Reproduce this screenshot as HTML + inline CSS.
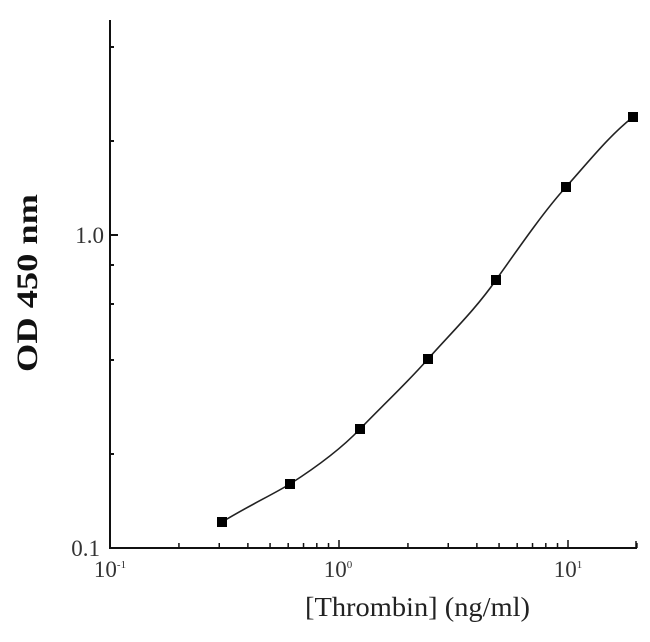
<!DOCTYPE html>
<html><head><style>
html,body{margin:0;padding:0;background:#fff;}
</style></head><body>
<svg width="650" height="637" xmlns="http://www.w3.org/2000/svg" font-family="Liberation Serif, serif">
<g stroke="#111" stroke-width="2" fill="none">
<line x1="110" y1="20" x2="110" y2="549"/>
<line x1="109" y1="548" x2="637" y2="548"/>
<line x1="110" y1="235" x2="118" y2="235"/>
<line x1="110" y1="141" x2="114" y2="141"/>
<line x1="110" y1="47" x2="114" y2="47"/>
<line x1="110" y1="265" x2="114" y2="265"/>
<line x1="110" y1="304" x2="114" y2="304"/>
<line x1="110" y1="360" x2="114" y2="360"/>
<line x1="110" y1="454" x2="114" y2="454"/>
</g>
<g stroke="#111" stroke-width="1.5" id="xt"></g>
<path d="M222,522 C250,505 270,496 290,484 C315,468 340,450 360,429 C385,403 405,385 428,359 C452,332 475,310 496,280 C520,246 545,210 566,187 C590,160 610,135 633,117" stroke="#222" stroke-width="1.6" fill="none"/>
<g fill="#000">
<rect x="217" y="517" width="10" height="10"/>
<rect x="285" y="479" width="10" height="10"/>
<rect x="355" y="424" width="10" height="10"/>
<rect x="423" y="354" width="10" height="10"/>
<rect x="491" y="275" width="10" height="10"/>
<rect x="561" y="182" width="10" height="10"/>
<rect x="628" y="112" width="10" height="10"/>
</g>
<g font-size="23" fill="#333">
<text x="104" y="243" text-anchor="end">1.0</text>
<text x="100" y="556" text-anchor="end">0.1</text>
<text x="110" y="577" text-anchor="middle">10<tspan font-size="11" dy="-9">-1</tspan></text>
<text x="338" y="577" text-anchor="middle">10<tspan font-size="11" dy="-9">0</tspan></text>
<text x="568" y="577" text-anchor="middle">10<tspan font-size="11" dy="-9">1</tspan></text>
</g>
<text x="305" y="616" textLength="225" lengthAdjust="spacingAndGlyphs" font-size="27" fill="#222">[Thrombin] (ng/ml)</text>
<text transform="translate(37,372) rotate(-90)" textLength="178" lengthAdjust="spacingAndGlyphs" font-size="30" font-weight="bold" fill="#111">OD 450 nm</text>
</svg>
<script>
var g=document.getElementById('xt'),s='';
var x0=110,d=229;
for(var e=0;e<3;e++){for(var k=1;k<=9;k++){var x=x0+d*(e+Math.log10(k));if(x>637)break;var h=(k==1)?8:5;s+='<line x1="'+x+'" y1="548" x2="'+x+'" y2="'+(548-h)+'"/>';}}
s+='<line x1="636" y1="548" x2="636" y2="541"/>';
g.innerHTML=s;
</script>
</body></html>
